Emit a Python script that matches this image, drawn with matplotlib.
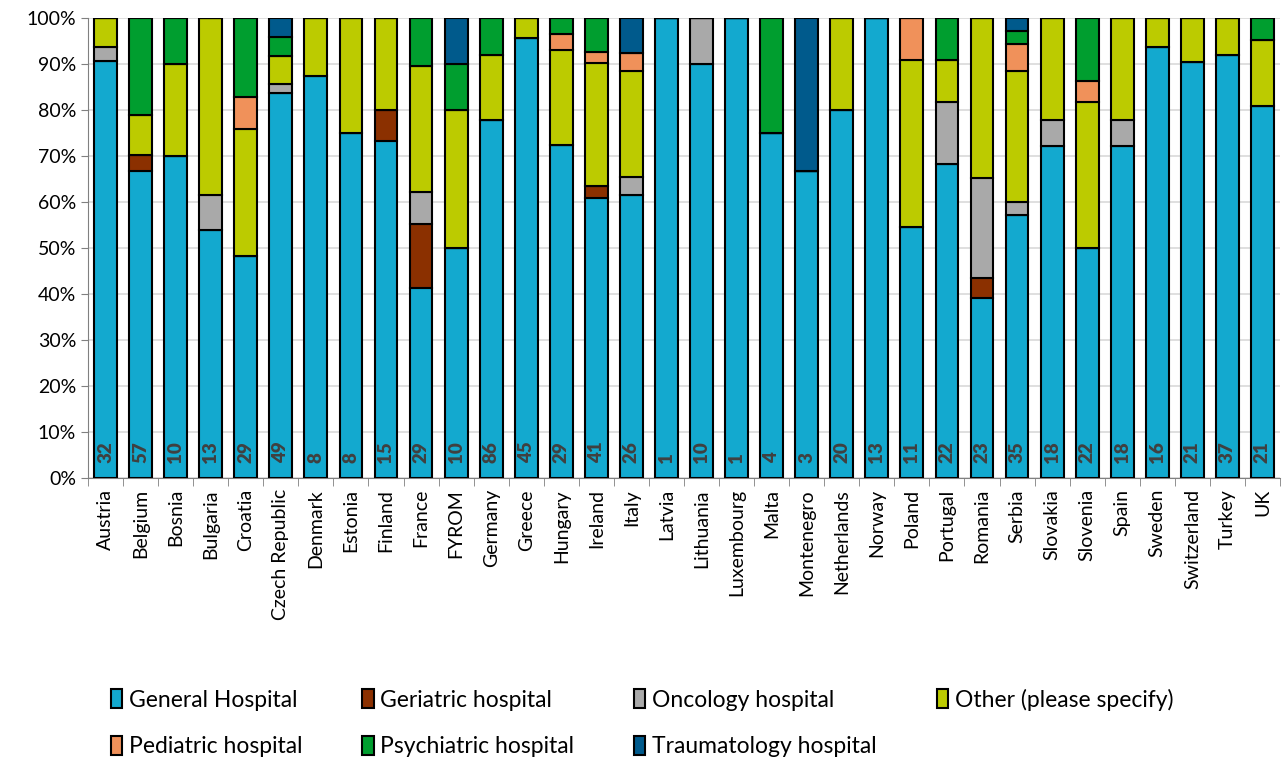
import numpy as np
import matplotlib
matplotlib.use("Agg")
import matplotlib.pyplot as plt
from matplotlib.ticker import FixedLocator, PercentFormatter

plt.rcParams['font.family'] = ['Lato', 'DejaVu Sans']

countries = ["Austria", "Belgium", "Bosnia", "Bulgaria", "Croatia", "Czech Republic",
             "Denmark", "Estonia", "Finland", "France", "FYROM", "Germany", "Greece",
             "Hungary", "Ireland", "Italy", "Latvia", "Lithuania", "Luxembourg", "Malta",
             "Montenegro", "Netherlands", "Norway", "Poland", "Portugal", "Romania",
             "Serbia", "Slovakia", "Slovenia", "Spain", "Sweden", "Switzerland", "Turkey", "UK"]

# counts per hospital type
general     = [29, 38, 7, 7, 14, 41, 7, 6, 11, 12, 5, 67, 43, 21, 25, 16, 1, 9, 1, 3, 2, 16, 13, 6, 15, 9, 20, 13, 11, 13, 15, 19, 34, 17]
geriatric   = [0, 2, 0, 0, 0, 0, 0, 0, 1, 4, 0, 0, 0, 0, 1, 0, 0, 0, 0, 0, 0, 0, 0, 0, 0, 1, 0, 0, 0, 0, 0, 0, 0, 0]
oncology    = [1, 0, 0, 1, 0, 1, 0, 0, 0, 2, 0, 0, 0, 0, 0, 1, 0, 1, 0, 0, 0, 0, 0, 0, 3, 5, 1, 1, 0, 1, 0, 0, 0, 0]
other       = [2, 5, 2, 5, 8, 3, 1, 2, 3, 8, 3, 12, 2, 6, 11, 6, 0, 0, 0, 0, 0, 4, 0, 4, 2, 8, 10, 4, 7, 4, 1, 2, 3, 3]
pediatric   = [0, 0, 0, 0, 2, 0, 0, 0, 0, 0, 0, 0, 0, 1, 1, 1, 0, 0, 0, 0, 0, 0, 0, 1, 0, 0, 2, 0, 1, 0, 0, 0, 0, 0]
psychiatric = [0, 12, 1, 0, 5, 2, 0, 0, 0, 3, 1, 7, 0, 1, 3, 0, 0, 0, 0, 1, 0, 0, 0, 0, 2, 0, 1, 0, 3, 0, 0, 0, 0, 1]
trauma      = [0, 0, 0, 0, 0, 2, 0, 0, 0, 0, 1, 0, 0, 0, 0, 2, 0, 0, 0, 0, 1, 0, 0, 0, 0, 0, 1, 0, 0, 0, 0, 0, 0, 0]

series = [general, geriatric, oncology, other, pediatric, psychiatric, trauma]
names = ["General Hospital", "Geriatric hospital", "Oncology hospital", "Other (please specify)",
         "Pediatric hospital", "Psychiatric hospital", "Traumatology hospital"]
colors = ["#13A9CF", "#8B3000", "#A9A9A9", "#BCCB00", "#F0915A", "#009E2F", "#005A8C"]

data = np.array(series, dtype=float)
totals = data.sum(axis=0)
pct = data / totals * 100
x = np.arange(len(countries))

fig = plt.figure(figsize=(12.85, 7.63), dpi=100)
ax = fig.add_axes([88/1285, 1-478/763, (1280-88)/1285, 460/763])

bottom = np.zeros(len(countries))
for vals, name, c in zip(pct, names, colors):
    ax.bar(x, vals, 0.65, bottom=bottom, color=c, edgecolor="black", linewidth=1.5,
           label=name, zorder=3)
    bottom += vals

for xi, t in zip(x, totals):
    ax.text(xi, 3.3, f"{int(t)}", rotation=90, ha="center", va="bottom",
            fontsize=13.5, fontweight="heavy", color="#404040", zorder=4)

ax.set_xlim(-0.5, len(countries) - 0.5)
ax.set_ylim(0, 100)
ax.set_yticks(np.arange(0, 101, 10))
ax.yaxis.set_major_formatter(PercentFormatter(decimals=0))
ax.set_xticks(x)
ax.set_xticklabels(countries, rotation=90, fontsize=14)
ax.tick_params(axis="x", which="major", length=0, pad=8)
ax.xaxis.set_minor_locator(FixedLocator(np.arange(-0.5, len(countries), 1)))
ax.tick_params(axis="x", which="minor", length=6, color="#808080")
ax.tick_params(axis="y", labelsize=14, length=5, color="#808080")
ax.grid(axis="y", color="#d9d9d9", linewidth=1.2, zorder=0)
for s in ["top", "right"]:
    ax.spines[s].set_visible(False)
for s in ["left", "bottom"]:
    ax.spines[s].set_color("#808080")

# row-wise legend order
handles, labels = ax.get_legend_handles_labels()
order = [0, 4, 1, 5, 2, 6, 3]
fig.legend([handles[i] for i in order], [labels[i] for i in order], ncol=4,
           loc="upper left", bbox_to_anchor=(90/1285, 1-668/763),
           frameon=False, fontsize=16.5, handlelength=0.5, handleheight=0.9,
           handletextpad=0.3, columnspacing=2.6, labelspacing=1.1)

fig.savefig("out.png", dpi=100)
